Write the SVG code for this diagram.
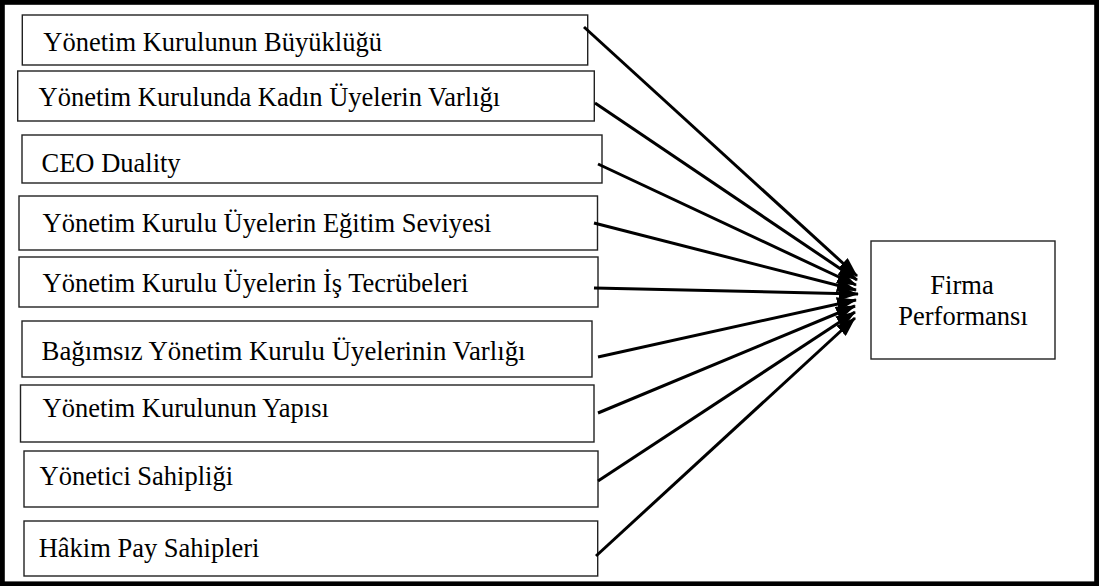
<svg xmlns="http://www.w3.org/2000/svg" width="1099" height="586" viewBox="0 0 1099 586">
<style>
.box{fill:#fff;stroke:#222;stroke-width:1.4}
.t{font-family:"Liberation Serif","Times New Roman",serif;font-size:26.5px;fill:#000}
.c{stroke:#000;stroke-width:3;fill:none}
</style>
<defs>
<marker id="ah" markerUnits="userSpaceOnUse" markerWidth="20" markerHeight="14" viewBox="0 0 20 14" refX="19" refY="7" orient="auto">
<path d="M0,0 L20,7 L0,14 z" fill="#000"/>
</marker>
</defs>
<rect x="2.4" y="2.4" width="1094.2" height="581.4" fill="#fff" stroke="#000" stroke-width="4.8"/>
<g id="n1"><rect class="box" x="22.3" y="15" width="565.4" height="50"/><text class="t" x="43.3" y="51">Yönetim Kurulunun Büyüklüğü</text></g>
<g id="n2"><rect class="box" x="17.7" y="71" width="576.6" height="50"/><text class="t" x="38.5" y="105.5">Yönetim Kurulunda Kadın Üyelerin Varlığı</text></g>
<g id="n3"><rect class="box" x="22" y="135" width="580" height="48"/><text class="t" x="41.5" y="171.5">CEO Duality</text></g>
<g id="n4"><rect class="box" x="19" y="196" width="578.5" height="54"/><text class="t" x="42.5" y="231.5">Yönetim Kurulu Üyelerin Eğitim Seviyesi</text></g>
<g id="n5"><rect class="box" x="19" y="257" width="579" height="50"/><text class="t" x="42.5" y="291.5">Yönetim Kurulu Üyelerin İş Tecrübeleri</text></g>
<g id="n6"><rect class="box" x="22" y="321" width="570" height="56"/><text class="t" x="41.5" y="360" textLength="484" lengthAdjust="spacingAndGlyphs">Bağımsız Yönetim Kurulu Üyelerinin Varlığı</text></g>
<g id="n7"><rect class="box" x="20.5" y="385" width="573.5" height="57"/><text class="t" x="42.5" y="417">Yönetim Kurulunun Yapısı</text></g>
<g id="n8"><rect class="box" x="24" y="451" width="574" height="56"/><text class="t" x="39.5" y="485">Yönetici Sahipliği</text></g>
<g id="n9"><rect class="box" x="24" y="521" width="573.7" height="55"/><text class="t" x="38.7" y="557">Hâkim Pay Sahipleri</text></g>
<g id="n10"><rect class="box" x="871" y="241" width="184" height="118"/><text class="t" x="962" y="294" text-anchor="middle">Firma</text><text class="t" x="963" y="324.5" text-anchor="middle">Performansı</text></g>
<g id="connectors">
<line class="c" x1="584" y1="27" x2="857" y2="276" marker-end="url(#ah)"/>
<line class="c" x1="595" y1="103" x2="857" y2="280" marker-end="url(#ah)"/>
<line class="c" x1="598" y1="164" x2="856" y2="285" marker-end="url(#ah)"/>
<line class="c" x1="594" y1="223" x2="856" y2="290" marker-end="url(#ah)"/>
<line class="c" x1="594" y1="288" x2="858" y2="294" marker-end="url(#ah)"/>
<line class="c" x1="598" y1="357" x2="856" y2="300" marker-end="url(#ah)"/>
<line class="c" x1="598" y1="413" x2="855" y2="306" marker-end="url(#ah)"/>
<line class="c" x1="598" y1="481" x2="855" y2="312" marker-end="url(#ah)"/>
<line class="c" x1="596" y1="556" x2="855" y2="318" marker-end="url(#ah)"/>
</g>
</svg>
